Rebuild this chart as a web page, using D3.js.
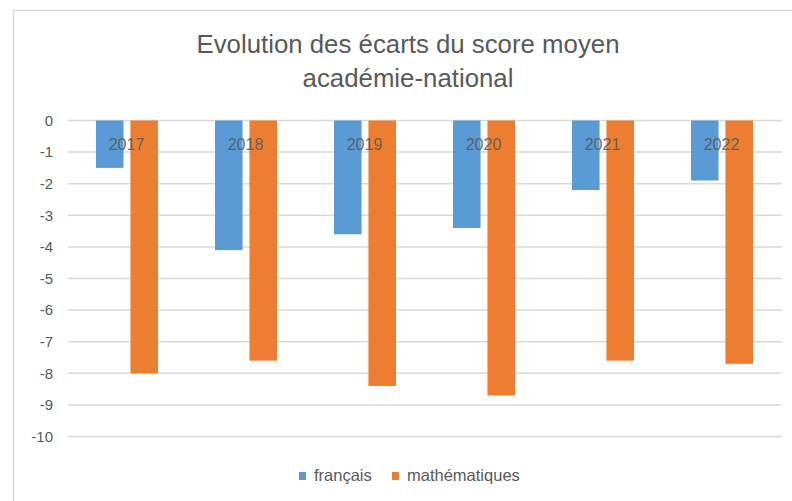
<!DOCTYPE html>
<html>
<head>
<meta charset="utf-8">
<script src="https://cdn.jsdelivr.net/npm/d3@7"></script>
<style>
  body { margin: 0; background: #fff; }
  svg text { font-family: "Liberation Sans", Arial, sans-serif; fill: #595959; }
</style>
</head>
<body>
<div id="chart"></div>
<script>
// écarts académie - national
const years = ["2017", "2018", "2019", "2020", "2021", "2022"];
const series = ["français", "mathématiques"];
const francais = [-1.5, -4.1, -3.6, -3.4, -2.2, -1.9];
const maths = [-8.0, -7.6, -8.4, -8.7, -7.6, -7.7];
const yTicks = [0, -1, -2, -3, -4, -5, -6, -7, -8, -9, -10];
const colors = ["#5b9bd5", "#ed7d31"];

const w = 792, h = 501;
const svg = d3.select("#chart").append("svg")
    .attr("width", w)
    .attr("height", h);

// cadre du graphique
svg.append("path")
    .attr("d", "M13.5," + h + "V10.5H" + w)
    .attr("fill", "none")
    .attr("stroke", "#d9d9d9")
    .attr("stroke-width", 1.5);

const title = svg.append("text")
    .attr("text-anchor", "middle")
    .style("font-size", "25.8px");
title.append("tspan").attr("x", 408).attr("y", 53).text("Evolution des écarts du score moyen");
title.append("tspan").attr("x", 408).attr("y", 87).text("académie-national");

const x = d3.scaleBand().domain(years).range([68, 782]);
const y = d3.scaleLinear().domain([-10, 0]).range([436.5, 120.5]);
const bw = x.bandwidth();
const x1 = d3.scaleBand().domain(series).range([bw / 2 - 31.5, bw / 2 + 30.5]).paddingInner(0.2);

// grille
svg.append("g")
    .selectAll("line")
    .data(yTicks)
    .enter()
    .append("line")
    .attr("x1", 68)
    .attr("x2", 782)
    .attr("y1", function (d) { return y(d); })
    .attr("y2", function (d) { return y(d); })
    .attr("stroke", "#d9d9d9")
    .attr("stroke-width", 1.5);

// axe vertical (trait d'union comme dans Excel)
const yAxis = svg.append("g")
    .attr("transform", "translate(53,0)")
    .call(d3.axisLeft(y).tickValues(yTicks).tickSize(0).tickPadding(0)
        .tickFormat(function (d) { return String(d); }));
yAxis.select(".domain").remove();
yAxis.selectAll("text")
    .style("font-size", "15px")
    .style("font-family", "\"Liberation Sans\", Arial, sans-serif")
    .attr("fill", "#595959");

const rows = years.map(function (yr, i) {
    return { year: yr, values: [francais[i], maths[i]] };
});

const groups = svg.append("g")
    .selectAll("g")
    .data(rows)
    .enter()
    .append("g")
    .attr("transform", function (d) { return "translate(" + x(d.year) + ",0)"; });

groups.selectAll("rect")
    .data(function (d) {
        return d.values.map(function (v, j) { return { s: series[j], v: v, c: colors[j] }; });
    })
    .enter()
    .append("rect")
    .attr("x", function (d) { return x1(d.s); })
    .attr("width", x1.bandwidth())
    .attr("y", y(0))
    .attr("height", function (d) { return y(d.v) - y(0); })
    .attr("fill", function (d) { return d.c; });

// étiquettes des années, en haut
svg.append("g")
    .selectAll("text")
    .data(years)
    .enter()
    .append("text")
    .attr("x", function (d) { return x(d) + bw / 2 - 1; })
    .attr("y", 150)
    .attr("text-anchor", "middle")
    .style("font-size", "16px")
    .style("fill", "#595959")
    .style("fill-opacity", 0.9)
    .text(function (d) { return d; });

// légende
const legendX = [299, 392];
const legend = svg.append("g")
    .selectAll("g")
    .data(series)
    .enter()
    .append("g")
    .attr("transform", function (d, i) { return "translate(" + legendX[i] + ",472)"; });
legend.append("rect")
    .attr("width", 7)
    .attr("height", 8)
    .attr("fill", function (d, i) { return colors[i]; });
legend.append("text")
    .attr("x", 15)
    .attr("y", 9)
    .style("font-size", "16.5px")
    .text(function (d) { return d; });
</script>
</body>
</html>
